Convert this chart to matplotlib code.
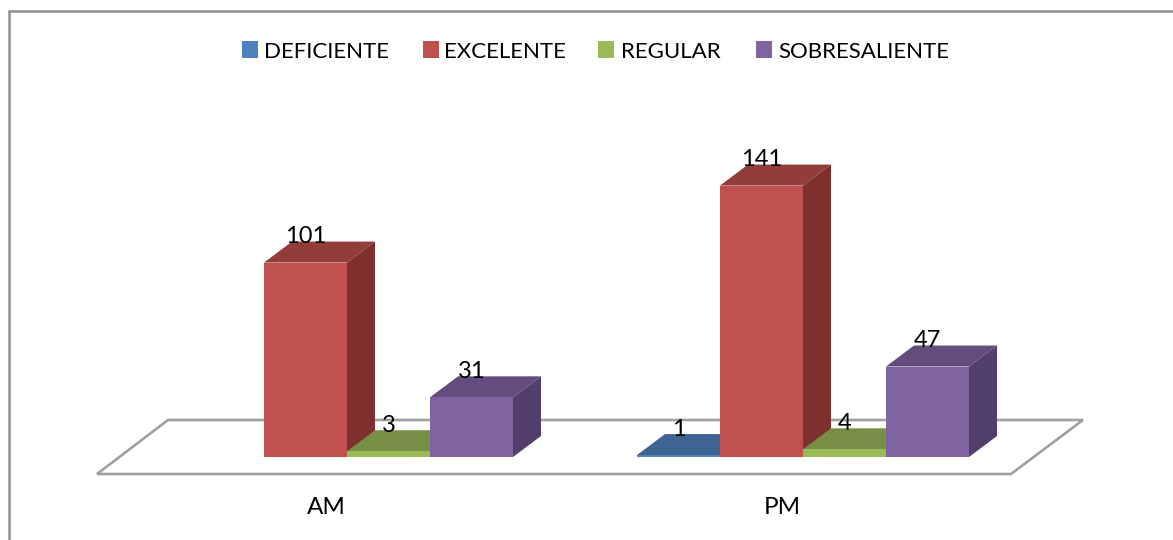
import matplotlib
matplotlib.use("Agg")
import matplotlib.pyplot as plt
from matplotlib.patches import Polygon, Rectangle

# Survey counts per shift
shifts = ["AM", "PM"]
ratings = ["DEFICIENTE", "EXCELENTE", "REGULAR", "SOBRESALIENTE"]
deficiente = [0, 1]
excelente = [101, 141]
regular = [3, 4]
sobresaliente = [31, 47]
series = [deficiente, excelente, regular, sobresaliente]

# Front, top and side shades for each rating
front_colors = ["#4F81BD", "#C0504D", "#9BBB59", "#8064A2"]
top_colors = ["#3E6491", "#933D3B", "#778F45", "#634D7E"]
side_colors = ["#325176", "#7D302E", "#5F7237", "#533F6B"]

W, H = 1173, 540
FONT = "Lato"

# Scale of the value and category axes, in pixels
PX_PER_UNIT = 1.925
PX_PER_CAT = 456.0
BASE_X, BASE_Y = 347.0, 457.0
BAR_W = 83.0 / PX_PER_CAT
DEPTH_X = 28.0 / PX_PER_CAT
DEPTH_Y = 21.0 / PX_PER_UNIT

fig = plt.figure(figsize=(W / 100, H / 100), dpi=100, facecolor="white")
ax = fig.add_axes([0, 0, 1, 1])
ax.set_xlim(-BASE_X / PX_PER_CAT, (W - BASE_X) / PX_PER_CAT)
ax.set_ylim((BASE_Y - H) / PX_PER_UNIT, BASE_Y / PX_PER_UNIT)
ax.axis("off")


def px(x, y):
    """Convert a pixel position (origin top-left) to axis units."""
    return (x - BASE_X) / PX_PER_CAT, (BASE_Y - y) / PX_PER_UNIT


# Chart frame: left and top edges only, running off the canvas
frame = [px(9, 545), px(9, 11), px(1180, 11)]
ax.add_patch(Polygon(frame, closed=False, fill=False, edgecolor="#8F8F8F", lw=1.8, zorder=1))

# Chart floor
floor = [px(97, 474), px(1011, 474), px(1083, 420), px(168, 420)]
ax.add_patch(Polygon(floor, closed=True, facecolor="white", edgecolor="#A0A0A0", lw=1.9, zorder=2))

z = 3
for cat, _ in enumerate(shifts):
    for s, values in enumerate(series):
        v = values[cat]
        if v == 0:
            continue
        x0 = cat + (s - 2) * BAR_W
        x1 = x0 + BAR_W
        ax.add_patch(Polygon([(x0, v), (x1, v), (x1 + DEPTH_X, v + DEPTH_Y), (x0 + DEPTH_X, v + DEPTH_Y)],
                             closed=True, facecolor=top_colors[s], edgecolor="none", zorder=z))
        ax.add_patch(Polygon([(x1, 0), (x1, v), (x1 + DEPTH_X, v + DEPTH_Y), (x1 + DEPTH_X, DEPTH_Y)],
                             closed=True, facecolor=side_colors[s], edgecolor="none", zorder=z))
        ax.add_patch(Rectangle((x0, 0), BAR_W, v, facecolor=front_colors[s], edgecolor="none", zorder=z + 0.5))
        ax.text(x0 + BAR_W / 2, v + 26 / PX_PER_UNIT, str(v), ha="center", va="center",
                fontsize=17, family=FONT, color="black", zorder=20)
        z += 1

# Category labels under the floor, centred a little left of the bar groups
for cat, name in enumerate(shifts):
    ax.text(cat - 21 / PX_PER_CAT, -50 / PX_PER_UNIT, name, ha="center", va="center",
            fontsize=17.5, family=FONT, color="black", zorder=20)

# Legend row
swatch_x = [242, 423, 598, 756]
label_x = [264, 444, 621, 778]
for s, name in enumerate(ratings):
    x, y = px(swatch_x[s], 58)
    ax.add_patch(Rectangle((x, y), 15.5 / PX_PER_CAT, 16.5 / PX_PER_UNIT,
                           facecolor=front_colors[s], edgecolor="none", zorder=20))
    tx, ty = px(label_x[s], 52)
    ax.text(tx, ty, name, ha="left", va="center", fontsize=16, family=FONT, color="black", zorder=20)

fig.savefig("out.png", dpi=100, facecolor="white")
